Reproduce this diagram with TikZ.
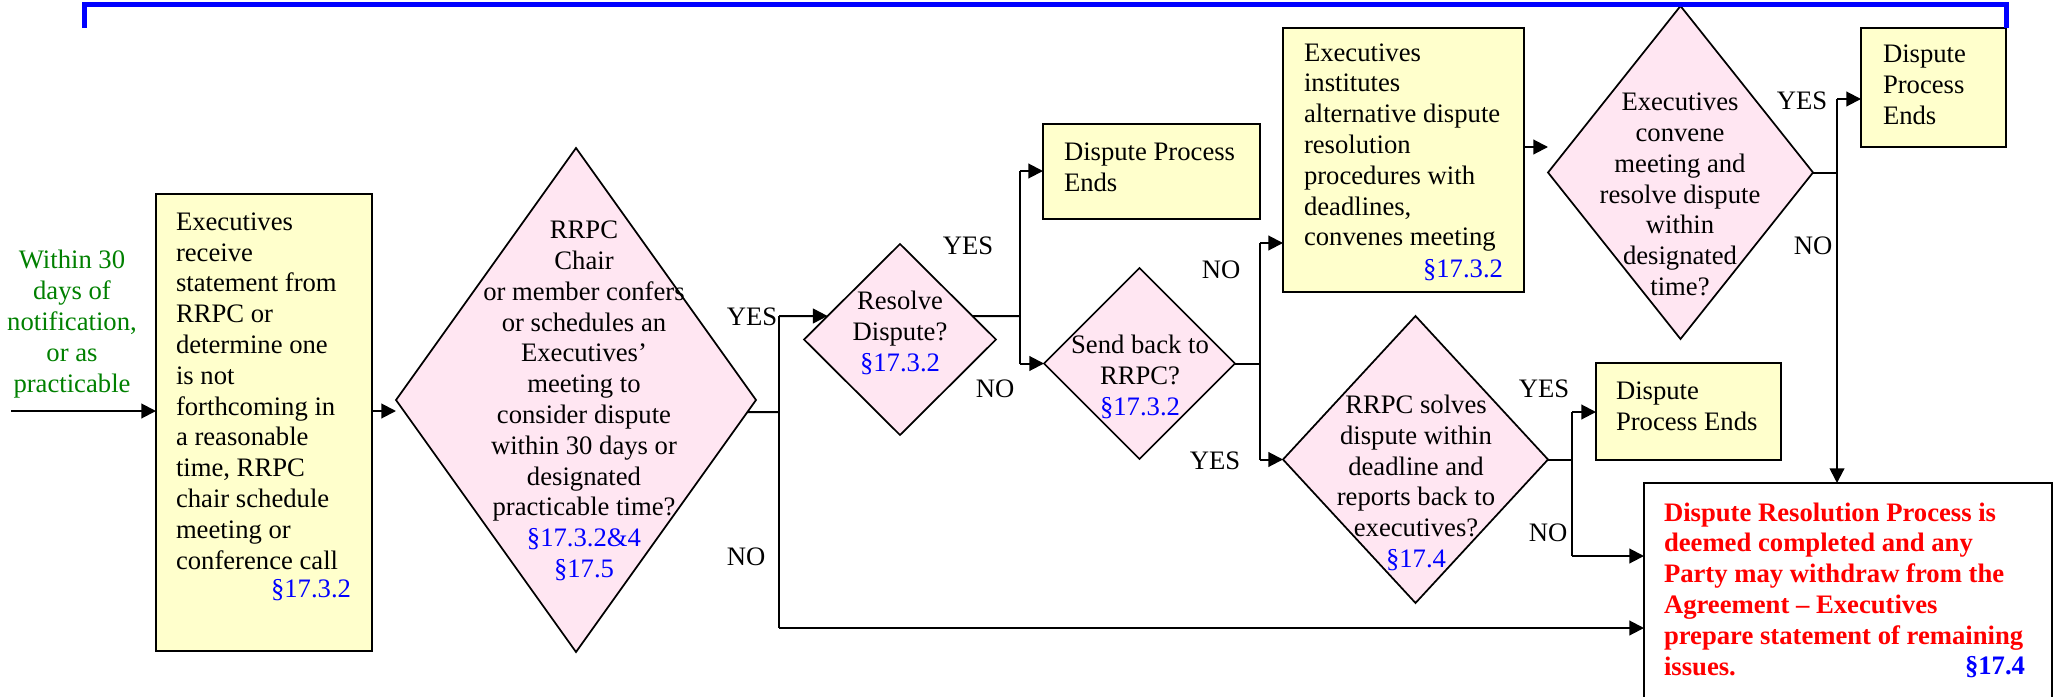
\documentclass[tikz,border=0pt]{standalone}
\usepackage{fontspec}
\setmainfont{Liberation Serif}
\usetikzlibrary{arrows.meta,shapes.geometric,calc}
\definecolor{boxyellow}{RGB}{255,255,204}
\definecolor{dpink}{RGB}{255,230,242}
\definecolor{secblue}{RGB}{0,0,255}
\definecolor{noteGreen}{RGB}{0,128,0}
\definecolor{alertred}{RGB}{255,0,0}
\definecolor{loopblue}{RGB}{0,0,255}
\tikzset{
  ybox/.style={rectangle, draw=black, line width=1.6pt, fill=boxyellow, inner sep=0pt, outer sep=0pt},
  wbox/.style={rectangle, draw=black, line width=1.6pt, fill=white, inner sep=0pt, outer sep=0pt},
  dec/.style={diamond, draw=black, line width=1.3pt, fill=dpink, inner sep=0pt, outer sep=0pt},
  txt/.style={font=\fontsize{20}{23.1}\selectfont, inner sep=0pt, outer sep=0pt},
  redtxt/.style={font=\fontsize{20}{23.1}\selectfont\bfseries, text=alertred, inner sep=0pt, outer sep=0pt},
  sec/.style={txt, text=secblue},
  secb/.style={redtxt, text=secblue},
  conn/.style={draw=black, line width=1.5pt},
  arr/.style={conn, -{Triangle[length=11pt,width=11pt]}},
}
\begin{document}
\begin{tikzpicture}[x=0.75pt,y=-0.75pt]
\useasboundingbox (0,0) rectangle (2055,696);

% ---------- shapes ----------
\node[ybox, minimum width=216*0.75pt, minimum height=457*0.75pt] (b1) at (264,422.5) {};
\node[dec, minimum width=360*0.75pt, minimum height=504*0.75pt] (d1) at (576,400) {};
\node[dec, minimum width=192*0.75pt, minimum height=191*0.75pt] (d2) at (900,339.5) {};
\node[ybox, minimum width=217*0.75pt, minimum height=95*0.75pt] (p1) at (1151.5,171.5) {};
\node[dec, minimum width=191*0.75pt, minimum height=191*0.75pt] (d3) at (1139.5,363.5) {};
\node[ybox, minimum width=241*0.75pt, minimum height=264*0.75pt] (ei) at (1403.5,160) {};
\node[dec, minimum width=265*0.75pt, minimum height=333*0.75pt] (d5) at (1680.5,172.5) {};
\node[ybox, minimum width=145*0.75pt, minimum height=119*0.75pt] (p2) at (1933.5,87.5) {};
\node[dec, minimum width=265*0.75pt, minimum height=287*0.75pt] (d4) at (1415.5,459.5) {};
\node[ybox, minimum width=185*0.75pt, minimum height=97*0.75pt] (p3) at (1688.5,411.5) {};
\node[wbox, minimum width=408*0.75pt, minimum height=260*0.75pt] (fin) at (1848,613) {};

% ---------- texts ----------
\node[txt, text=noteGreen, align=center] (note) at (72,324) {Within 30\\days of\\notification,\\or as\\practicable};

\node[txt, align=left, anchor=west] (b1t) at (176,391) {Executives\\receive\\statement from\\RRPC or\\determine one\\is not\\forthcoming in\\a reasonable\\time, RRPC\\chair schedule\\meeting or\\conference call};
\node[sec, anchor=east] (b1s) at (351,590) {§17.3.2};

\node[txt, align=center] (d1t) at (584,401) {RRPC\\Chair\\or member confers\\or schedules an\\Executives’\\meeting to\\consider dispute\\within 30 days or\\designated\\practicable time?\\\textcolor{secblue}{§17.3.2\&4}\\\textcolor{secblue}{§17.5}};

\node[txt, align=center] (d2t) at (900,333) {Resolve\\Dispute?\\\textcolor{secblue}{§17.3.2}};
\node[txt, align=left, anchor=west] (p1t) at (1064,167) {Dispute Process\\Ends};
\node[txt, align=center] (d3t) at (1140,377) {Send back to\\RRPC?\\\textcolor{secblue}{§17.3.2}};

\node[txt, align=left, anchor=west] (eit) at (1304,147.5) {Executives\\institutes\\alternative dispute\\resolution\\procedures with\\deadlines,\\convenes meeting};
\node[sec, anchor=east] (eis) at (1503,270) {§17.3.2};

\node[txt, align=center] (d5t) at (1680,194.5) {Executives\\convene\\meeting and\\resolve dispute\\within\\designated\\time?};
\node[txt, align=left, anchor=west] (p2t) at (1883,85) {Dispute\\Process\\Ends};

\node[txt, align=center] (d4t) at (1416,483) {RRPC solves\\dispute within\\deadline and\\reports back to\\executives?\\\textcolor{secblue}{§17.4}};
\node[txt, align=left, anchor=west] (p3t) at (1616,406.5) {Dispute\\Process Ends};

\node[redtxt, align=left, anchor=west] (fint) at (1664,589) {Dispute Resolution Process is\\deemed completed and any\\Party may withdraw from the\\Agreement – Executives\\prepare statement of remaining\\issues.};
\node[secb, anchor=east] (fins) at (2025,667) {§17.4};

% ---------- labels ----------
\node[txt] (l1y) at (752,317) {YES};
\node[txt] (l1n) at (746,557) {NO};
\node[txt] (l2y) at (968,246) {YES};
\node[txt] (l2n) at (995,389) {NO};
\node[txt] (l3n) at (1221,270) {NO};
\node[txt] (l3y) at (1215,461) {YES};
\node[txt] (l4y) at (1544,389) {YES};
\node[txt] (l4n) at (1548,533) {NO};
\node[txt] (l5y) at (1802,101) {YES};
\node[txt] (l5n) at (1813,246) {NO};

% ---------- connectors ----------
\coordinate (in0) at (11,411);
\draw[arr] (in0) -- (in0 -| b1.west);
\draw[arr] (b1.east |- in0) -- (d1.west |- in0);

\coordinate (j1) at (779,412);
\coordinate (j1t) at (779,316);
\coordinate (j1b) at (779,628);
\draw[conn] ($(d1.east)!12/252!(d1.south)$) -- (j1);
\draw[conn] (j1t) -- (j1b);
\draw[arr] (j1t) -- ($(d2.west)!23.5/95.5!(d2.north)$);
\draw[arr] (j1b) -- (j1b -| fin.west);

\coordinate (j2) at (1020,316);
\coordinate (j2t) at (1020,171);
\coordinate (j2b) at (1020,363.5);
\draw[conn] ($(d2.east)!23.5/95.5!(d2.north)$) -- (j2);
\draw[conn] (j2t) -- (j2b);
\draw[arr] (j2t) -- (j2t -| p1.west);
\draw[arr] (j2b) -- (d3.west);

\coordinate (j3) at (1260,363.5);
\coordinate (j3t) at (1260,243);
\coordinate (j3b) at (1260,459.5);
\draw[conn] (d3.east) -- (j3);
\draw[conn] (j3t) -- (j3b);
\draw[arr] (j3t) -- (j3t -| ei.west);
\draw[arr] (j3b) -- (d4.west);

\coordinate (e1) at (1524,147);
\draw[arr] (ei.east |- e1) -- (d5.west |- e1);

\coordinate (j5) at (1837,172.5);
\coordinate (j5t) at (1837,99);
\draw[conn] (d5.east) -- (j5);
\draw[arr] (j5t) -- (j5t -| p2.west);
\draw[arr] (j5t) -- (j5t |- fin.north);

\coordinate (j4) at (1572,459.5);
\coordinate (j4t) at (1572,412);
\coordinate (j4b) at (1572,556);
\draw[conn] (d4.east) -- (j4);
\draw[conn] (j4t) -- (j4b);
\draw[arr] (j4t) -- (j4t -| p3.west);
\draw[arr] (j4b) -- (j4b -| fin.west);

% ---------- blue loop bracket ----------
\coordinate (bl) at (84,28);
\coordinate (bltop) at (84,4);
\draw[loopblue, line width=3.75pt] (bl) -- (bltop) -- (bltop -| p2.north east) -- (p2.north east);
\end{tikzpicture}
\end{document}
